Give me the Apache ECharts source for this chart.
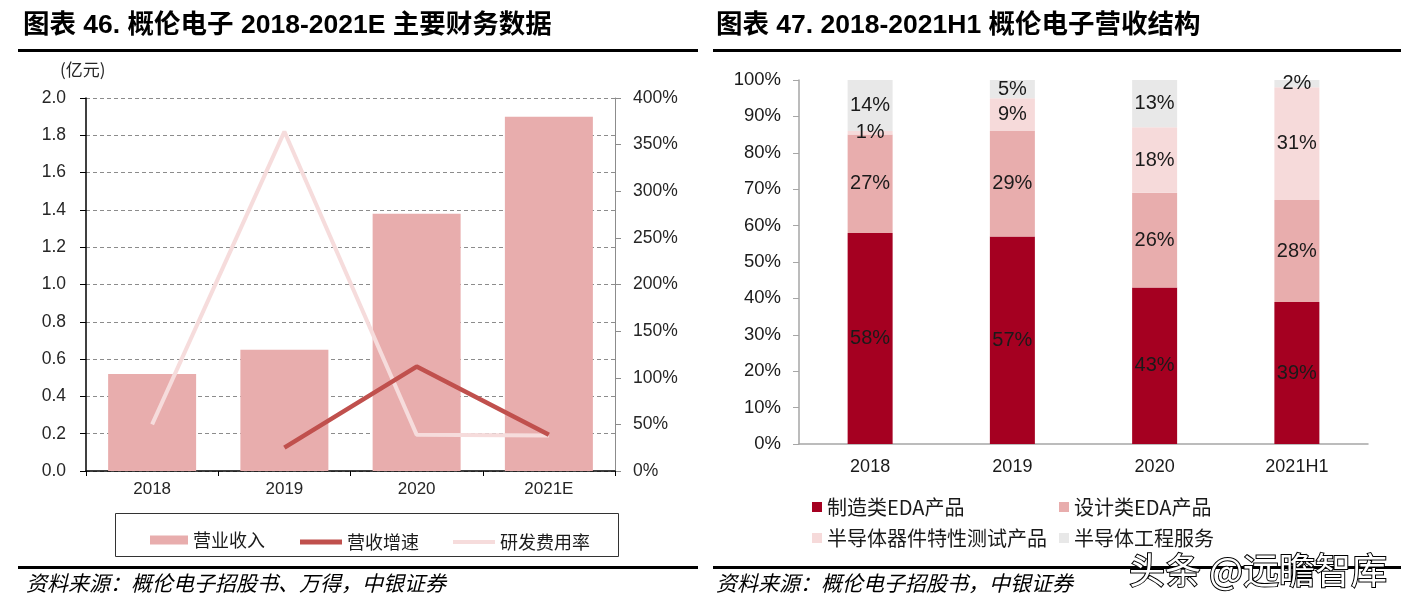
<!DOCTYPE html>
<html><head><meta charset="utf-8">
<script src="https://cdn.jsdelivr.net/npm/echarts@6/dist/echarts.min.js"></script>
<style>html,body{margin:0;padding:0;background:#fff}#c{width:1406px;height:606px}</style>
</head><body><div id="c"></div>
<script>
// ---- Left chart data ----
const years = ['2018', '2019', '2020', '2021E'];
const revenue = [0.52, 0.65, 1.38, 1.90];          // 营业收入 (亿元)
const revenueGrowth = [null, 25, 112, 39];         // 营收增速 (%)
const rdRatio = [50, 364, 39, 38];                 // 研发费用率 (%)
// ---- Right chart data ----
const periods = ['2018', '2019', '2020', '2021H1'];
const mfgEDA = [58, 57, 43, 39];       // 制造类EDA产品
const designEDA = [27, 29, 26, 28];    // 设计类EDA产品
const testProducts = [1, 9, 18, 31];   // 半导体器件特性测试产品
const engService = [14, 5, 13, 2];     // 半导体工程服务

const LAT = '"Liberation Sans", Arial, "Noto Sans CJK SC", sans-serif';
const CJK = '"Noto Sans CJK SC", "Liberation Sans", sans-serif';
const C_BAR = '#E8ADAD', C_GROW = '#C0504D', C_RD = '#F6DCDC';
const C1 = '#A50021', C2 = '#E8ADAD', C3 = '#F6DADA', C4 = '#E8E8E8';

const chart = echarts.init(document.getElementById('c'), null, {renderer: 'canvas'});

function legendItem(name, left, top, w, h, fs) {
  return {
    data: [{name: name, icon: 'rect'}], left: left, top: top, padding: 0,
    itemWidth: w, itemHeight: h, itemGap: 0, selectedMode: false,
    textStyle: {fontFamily: CJK, fontSize: fs, color: '#1a1a1a'}
  };
}

const labelStyle = {show: true, position: 'inside', formatter: '{c}%', color: '#1a1a1a', fontSize: 20, fontFamily: LAT};

chart.setOption({
  backgroundColor: '#fff',
  animation: false,
  grid: [
    {left: 86, top: 98, width: 529, height: 373},
    {left: 799, top: 80, width: 569, height: 364}
  ],
  xAxis: [
    {type: 'category', gridIndex: 0, data: years,
     axisLine: {lineStyle: {color: '#000', width: 1.5}},
     axisTick: {show: true, length: 5, lineStyle: {color: '#000'}},
     axisLabel: {color: '#262626', fontSize: 17, fontFamily: LAT, margin: 10}},
    {type: 'category', gridIndex: 1, data: periods,
     axisLine: {lineStyle: {color: '#a6a6a6', width: 1.5}},
     axisTick: {show: false},
     axisLabel: {color: '#1a1a1a', fontSize: 18, fontFamily: LAT, margin: 14}}
  ],
  yAxis: [
    {type: 'value', gridIndex: 0, min: 0, max: 2, interval: 0.2,
     axisLine: {show: true, lineStyle: {color: '#000', width: 1.5}},
     axisTick: {show: true, length: 6, lineStyle: {color: '#000'}},
     axisLabel: {color: '#262626', fontSize: 17.5, fontFamily: LAT, margin: 20, formatter: v => v.toFixed(1)},
     splitLine: {show: true, lineStyle: {color: '#8c8c8c', type: [4, 3], width: 1}}},
    {type: 'value', gridIndex: 0, position: 'right', min: 0, max: 400, interval: 50,
     axisLine: {show: true, lineStyle: {color: '#8c8c8c', width: 1}},
     axisTick: {show: true, length: 6, lineStyle: {color: '#8c8c8c'}},
     axisLabel: {color: '#262626', fontSize: 17.5, fontFamily: LAT, margin: 18, formatter: '{value}%'},
     splitLine: {show: false}},
    {type: 'value', gridIndex: 1, min: 0, max: 100, interval: 10,
     axisLine: {show: true, lineStyle: {color: '#a6a6a6', width: 1.5}},
     axisTick: {show: true, length: 6, lineStyle: {color: '#a6a6a6'}},
     axisLabel: {color: '#1a1a1a', fontSize: 18.5, fontFamily: LAT, margin: 18, formatter: '{value}%'},
     splitLine: {show: false}}
  ],
  legend: [
    legendItem('营业收入', 150, 531, 38, 9, 18),
    legendItem('营收增速', 300, 533, 42, 5, 18),
    legendItem('研发费用率', 453, 533, 42, 4, 18),
    legendItem('制造类EDA产品', 812, 497, 10, 10, 20),
    legendItem('设计类EDA产品', 1059, 497, 10, 10, 20),
    legendItem('半导体器件特性测试产品', 812, 528, 10, 10, 20),
    legendItem('半导体工程服务', 1059, 528, 10, 10, 20)
  ],
  series: [
    {name: '营业收入', type: 'bar', xAxisIndex: 0, yAxisIndex: 0, data: revenue, barWidth: 88,
     itemStyle: {color: C_BAR}, z: 2},
    {name: '研发费用率', type: 'line', xAxisIndex: 0, yAxisIndex: 1, data: rdRatio, symbol: 'none',
     lineStyle: {color: C_RD, width: 4}, itemStyle: {color: C_RD}, z: 3},
    {name: '营收增速', type: 'line', xAxisIndex: 0, yAxisIndex: 1, data: revenueGrowth, symbol: 'none',
     lineStyle: {color: C_GROW, width: 4.5}, itemStyle: {color: C_GROW}, z: 4},
    {name: '制造类EDA产品', type: 'bar', stack: 's', xAxisIndex: 1, yAxisIndex: 2, data: mfgEDA, barWidth: 45,
     itemStyle: {color: C1}, label: labelStyle},
    {name: '设计类EDA产品', type: 'bar', stack: 's', xAxisIndex: 1, yAxisIndex: 2, data: designEDA, barWidth: 45,
     itemStyle: {color: C2}, label: labelStyle},
    {name: '半导体器件特性测试产品', type: 'bar', stack: 's', xAxisIndex: 1, yAxisIndex: 2, data: testProducts, barWidth: 45,
     itemStyle: {color: C3}, label: labelStyle},
    {name: '半导体工程服务', type: 'bar', stack: 's', xAxisIndex: 1, yAxisIndex: 2, data: engService, barWidth: 45,
     itemStyle: {color: C4}, label: labelStyle}
  ],
  graphic: [
    {type: 'text', left: 23, top: 12, style: {text: '图表 46. 概伦电子 2018-2021E 主要财务数据', font: 'bold 26.5px ' + LAT, fill: '#000'}},
    {type: 'text', left: 716, top: 12, style: {text: '图表 47. 2018-2021H1 概伦电子营收结构', font: 'bold 26.5px ' + LAT, fill: '#000'}},
    {type: 'rect', shape: {x: 18, y: 49, width: 680, height: 3}, style: {fill: '#000'}},
    {type: 'rect', shape: {x: 713, y: 49, width: 688, height: 3}, style: {fill: '#000'}},
    {type: 'text', left: 60, top: 61, style: {text: '(亿元)', font: '17px ' + CJK, fill: '#262626'}},
    {type: 'rect', shape: {x: 115.5, y: 513.5, width: 503, height: 43}, style: {fill: 'none', stroke: '#333', lineWidth: 1}},
    {type: 'rect', shape: {x: 18, y: 566, width: 680, height: 3}, style: {fill: '#000'}},
    {type: 'rect', shape: {x: 713, y: 566, width: 688, height: 3}, style: {fill: '#000'}},
    {type: 'text', left: 26, top: 573, style: {text: '资料来源：概伦电子招股书、万得，中银证券', font: 'italic 21px ' + CJK, fill: '#000'}},
    {type: 'text', left: 716, top: 573, style: {text: '资料来源：概伦电子招股书，中银证券', font: 'italic 21px ' + CJK, fill: '#000'}},
    {type: 'text', left: 1128, top: 551, z: 100, style: {text: '头条 @远瞻智库', font: '36px ' + CJK, fill: '#fff', stroke: '#000', lineWidth: 2}}
  ]
});
</script></body></html>
